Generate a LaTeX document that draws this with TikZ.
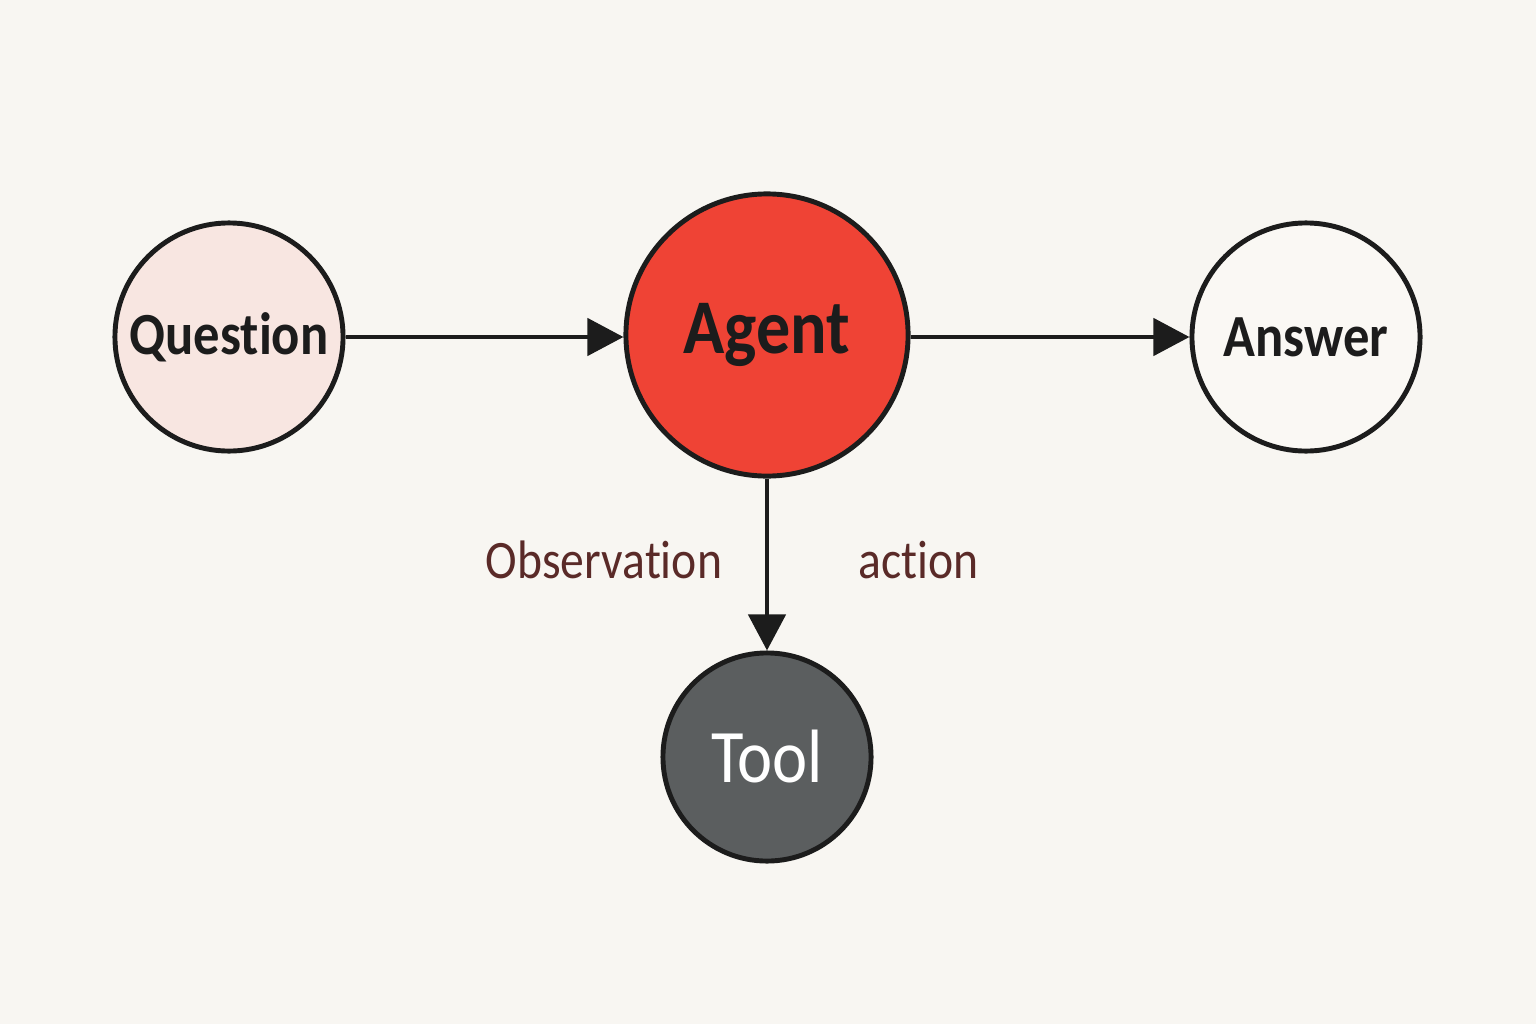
\documentclass[tikz,border=0pt]{standalone}
\usepackage{fontspec}
\setmainfont{Carlito}[FakeStretch=0.88, Ligatures=NoCommon, RawFeature={-liga}]
\usetikzlibrary{arrows.meta}
\definecolor{bgc}{HTML}{F8F6F2}
\definecolor{edgec}{HTML}{1C1C1C}
\definecolor{qfill}{HTML}{F8E6E1}
\definecolor{afill}{HTML}{EF4335}
\definecolor{ansfill}{HTML}{FAF8F4}
\definecolor{tfill}{HTML}{5B5E5F}
\definecolor{labc}{HTML}{5A2A28}
\tikzset{
  circnode/.style={circle, draw=edgec, line width=1.4pt, inner sep=0pt, align=center},
  conn/.style={draw=edgec, line width=1.3pt, -{Triangle[length=0.36cm, width=0.37cm]}},
  edgelabel/.style={text=labc, font=\fontsize{15.4}{18}\selectfont}
}
\begin{document}
\begin{tikzpicture}[x=0.01cm, y=-0.01cm]
\fill[bgc] (0,0) rectangle (1536,1024);
\useasboundingbox (0,0) rectangle (1536,1024);
\node[circnode, fill=qfill, minimum size=2.28cm, font=\bfseries\fontsize{17}{20}\selectfont, text=edgec] (q) at (229,337) {Question};
\node[circnode, fill=afill, minimum size=2.82cm, font=\bfseries\fontsize{22}{26}\selectfont, text=edgec] (ag) at (767,335) {Agent};
\node[circnode, fill=ansfill, minimum size=2.28cm, font=\bfseries\fontsize{17}{20}\selectfont, text=edgec] (ans) at (1306,337) {Answer};
\node[circnode, fill=tfill, minimum size=2.08cm, font=\fontsize{21.5}{25}\selectfont, text=white] (tool) at (767,757) {Tool};
\draw[conn] (q.east) -- (q.east -| ag.west);
\draw[conn] (ag.east |- ans.west) -- (ans.west);
\draw[conn] (ag) -- (tool);
\node[edgelabel] (obs) at (604,560) {Observation};
\node[edgelabel] (act) at (919,560) {action};
\end{tikzpicture}
\end{document}
